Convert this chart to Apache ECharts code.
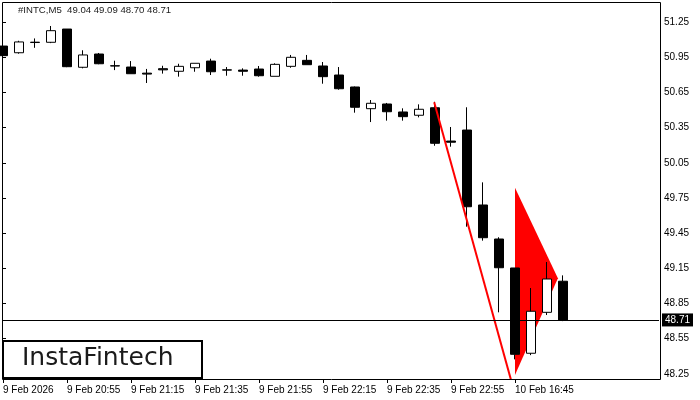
<!DOCTYPE html>
<html><head><meta charset="utf-8">
<script src="https://cdn.jsdelivr.net/npm/echarts@6/dist/echarts.min.js"></script>
<style>html,body{margin:0;padding:0;background:#fff}#c{width:700px;height:400px}</style>
</head><body><div id="c"></div>
<script>
const symbol = '#INTC,M5';
const opens  = [51.045,50.988,51.075,51.077,51.19,50.864,50.977,50.877,50.866,50.814,50.852,50.83,50.86,50.917,50.842,50.84,50.849,50.787,50.872,50.923,50.875,50.798,50.696,50.511,50.551,50.483,50.455,50.519,50.235,50.329,49.69,49.40,49.153,48.426,48.775,49.04];
const closes = [50.963,51.08,51.078,51.176,50.869,50.969,50.894,50.875,50.809,50.806,50.842,50.872,50.898,50.826,50.840,50.83,50.792,50.889,50.949,50.886,50.784,50.681,50.523,50.557,50.485,50.443,50.506,50.216,50.225,49.675,49.411,49.155,48.417,48.784,49.059,48.71];
const highs  = [51.07,51.09,51.11,51.216,51.19,51.009,50.986,50.92,50.917,50.85,50.877,50.894,50.898,50.937,50.866,50.855,50.875,50.898,50.969,50.969,50.909,50.866,50.70,50.585,50.56,50.514,50.548,50.57,50.355,50.523,49.883,49.415,49.153,48.982,49.204,49.09];
const lows   = [50.93,50.98,51.03,51.07,50.865,50.855,50.89,50.84,50.809,50.73,50.81,50.784,50.826,50.798,50.792,50.792,50.784,50.787,50.86,50.886,50.724,50.673,50.477,50.397,50.409,50.409,50.437,50.195,50.187,49.505,49.386,48.775,48.374,48.41,48.752,48.70];
const slotCount = 42;
const tickLabels = ['9 Feb 2026','9 Feb 20:55','9 Feb 21:15','9 Feb 21:35','9 Feb 21:55','9 Feb 22:15','9 Feb 22:35','9 Feb 22:55','10 Feb 16:45'];
const tickEvery = 4;
const priceTicks = [48.25,48.55,48.85,49.15,49.45,49.75,50.05,50.35,50.65,50.95,51.25];
const priceMin = 48.198, priceMax = 51.412;
const poleX = [26.95, 31.95];
const poleY = [50.565, 48.1];
const pennantX = [32, 34.68, 32];
const pennantY = [49.837, 49.065, 48.241];

const categories = Array.from({length: slotCount}, (_, i) => String(i));
const candleData = opens.map((o, i) => [o, closes[i], lows[i], highs[i]]);
const last = opens.length - 1;
const titleText = symbol + '  ' + [opens[last], highs[last], lows[last], closes[last]].map(v => v.toFixed(2)).join(' ');
const isTick = (idx) => idx % tickEvery === 0 && idx / tickEvery < tickLabels.length;

const chart = echarts.init(document.getElementById('c'), null, {renderer: 'canvas'});
chart.setOption({
  animation: false,
  backgroundColor: '#fff',
  textStyle: {fontFamily: 'Liberation Sans'},
  grid: {left: 3, top: 3, width: 656, height: 377, containLabel: false},
  xAxis: [{
    type: 'category', data: categories, boundaryGap: false,
    axisLine: {show: false},
    axisTick: {show: true, length: 3, interval: (idx) => isTick(idx), lineStyle: {color: '#000'}},
    axisLabel: {interval: (idx) => isTick(idx), formatter: (v, idx) => isTick(idx) ? tickLabels[idx / tickEvery] : '',
      align: 'left', margin: 5, fontSize: 10, color: '#000', fontFamily: 'Liberation Sans'},
    splitLine: {show: false}
  }, {
    type: 'value', min: 0, max: slotCount - 1, show: false
  }],
  yAxis: {
    type: 'value', position: 'right', offset: 2, min: priceMin, max: priceMax, scale: true,
    axisLine: {show: false},
    axisTick: {show: true, length: 3, customValues: priceTicks, lineStyle: {color: '#000'}},
    axisLabel: {customValues: priceTicks, formatter: (v) => v.toFixed(2), margin: 3, fontSize: 10, color: '#000', fontFamily: 'Liberation Sans'},
    splitLine: {show: false}
  },
  series: [{
    type: 'custom', xAxisIndex: 1, z: 1, clip: true,
    data: [[pennantX[0], pennantY[0]]],
    renderItem: (params, api) => ({
      type: 'polygon',
      shape: {points: pennantX.map((x, i) => api.coord([x, pennantY[i]]))},
      style: {fill: '#ff0000', stroke: 'none'}
    })
  }, {
    type: 'candlestick', z: 2, clip: true, barWidth: 10,
    data: candleData,
    itemStyle: {color: '#ffffff', color0: '#000000', borderColor: '#000000', borderColor0: '#000000', borderWidth: 1},
    markLine: {
      silent: true, symbol: 'none', z: 10,
      data: [{yAxis: closes[last]}],
      lineStyle: {color: '#000', width: 1, type: 'solid'},
      label: {position: 'end', distance: 3, formatter: (p) => Number(p.value).toFixed(2),
        backgroundColor: '#000', color: '#fff', padding: [2, 3, 1, 3], fontSize: 10, fontFamily: 'Liberation Sans'}
    }
  }, {
    type: 'custom', xAxisIndex: 1, z: 3, clip: true,
    data: [[poleX[0], poleY[0]]],
    renderItem: (params, api) => ({
      type: 'polyline',
      shape: {points: poleX.map((x, i) => api.coord([x, poleY[i]]))},
      style: {stroke: '#ff0000', lineWidth: 2, fill: 'none'}
    })
  }],
  graphic: [
    {type: 'rect', z: 20, silent: true, shape: {x: 2.5, y: 2.5, width: 658, height: 377}, style: {fill: 'none', stroke: '#000', lineWidth: 1}},
    {type: 'text', z: 20, left: 18, top: 5, style: {text: titleText, fill: '#1a1a1a', font: '9.6px "Liberation Sans"'}},
    {type: 'rect', z: 20, silent: true, shape: {x: 3, y: 341, width: 199, height: 37}, style: {fill: '#fff', stroke: '#000', lineWidth: 2}},
    {type: 'text', z: 21, left: 22, top: 346, style: {text: 'InstaFintech', fill: '#1a1a1a', font: '25px "DejaVu Sans"'}}
  ]
});
</script></body></html>
